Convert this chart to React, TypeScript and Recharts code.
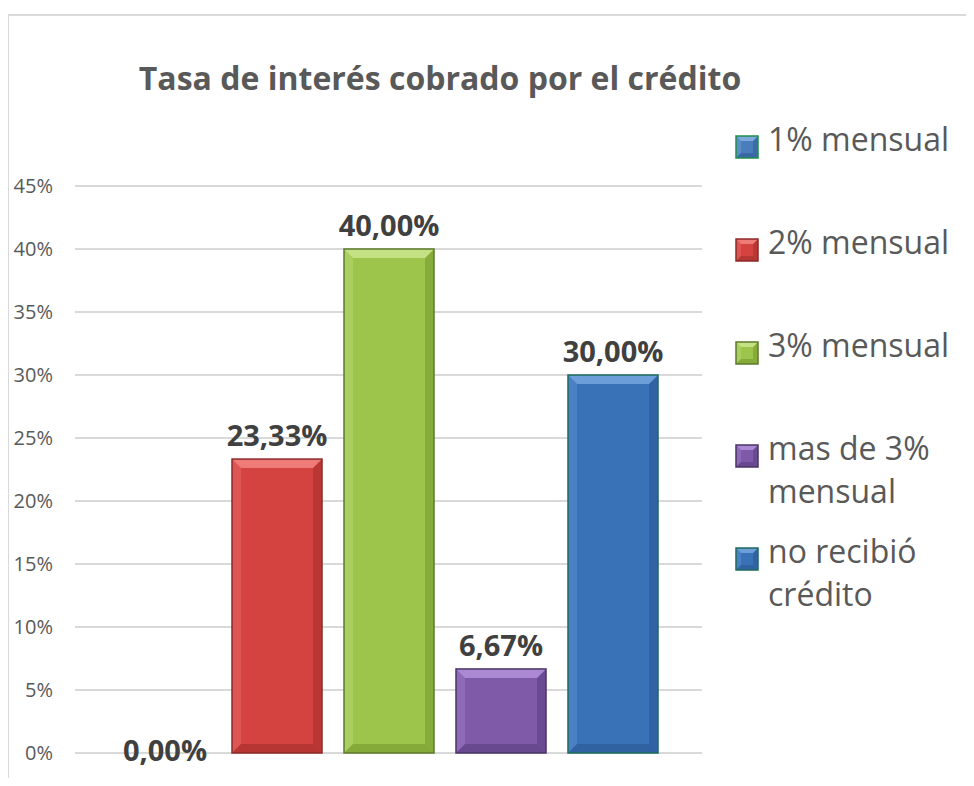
import {
  Bar,
  BarChart,
  CartesianGrid,
  Customized,
  LabelList,
  Legend,
  XAxis,
  YAxis,
} from "recharts";

const categories = ["Tasa de interés"];
const seriesNames = [
  "1% mensual",
  "2% mensual",
  "3% mensual",
  "mas de 3% mensual",
  "no recibió crédito",
];
const seriesValues = [0, 0.2333, 0.4, 0.0667, 0.3];
const yTicks = [0, 0.05, 0.1, 0.15, 0.2, 0.25, 0.3, 0.35, 0.4, 0.45];

type Palette = { fill: string; light: string; dark: string; stroke: string };

// bevelled fills, roughly the old office look
const palettes: Palette[] = [
  { fill: "#4A7EBB", light: "#7FA8DC", dark: "#2F5C96", stroke: "#1E8F4E" },
  { fill: "#D4433F", light: "#EE7B77", dark: "#A22E2B", stroke: "#8C2A28" },
  { fill: "#9DC54C", light: "#C4E283", dark: "#77982F", stroke: "#5E7A2E" },
  { fill: "#7E5AA8", light: "#AB8AD3", dark: "#5A3E80", stroke: "#4A3566" },
  { fill: "#3A72B8", light: "#6C9FDA", dark: "#2A5892", stroke: "#1D6B5E" },
];

const data = categories.map((name) => {
  const row: Record<string, string | number> = { name };
  seriesValues.forEach((v, i) => {
    row[`s${i}`] = v;
  });
  return row;
});

const fmtPct = (v: number) => `${(v * 100).toFixed(2).replace(".", ",")}%`;

function Bevel({
  x,
  y,
  width,
  height,
  pal,
  b,
  sw,
}: {
  x: number;
  y: number;
  width: number;
  height: number;
  pal: Palette;
  b: number;
  sw: number;
}) {
  const r = x + width;
  const bt = y + height;
  return (
    <g>
      <rect x={x} y={y} width={width} height={height} fill={pal.fill} />
      <polygon
        points={`${x},${y} ${x + b},${y + b} ${x + b},${bt - b} ${x},${bt}`}
        fill={pal.light}
        opacity={0.35}
      />
      <polygon
        points={`${r},${y} ${r},${bt} ${r - b},${bt - b} ${r - b},${y + b}`}
        fill={pal.dark}
        opacity={0.55}
      />
      <polygon
        points={`${x},${bt} ${r},${bt} ${r - b},${bt - b} ${x + b},${bt - b}`}
        fill={pal.dark}
        opacity={0.6}
      />
      <polygon
        points={`${x},${y} ${r},${y} ${r - b},${y + b} ${x + b},${y + b}`}
        fill={pal.light}
      />
      <rect
        x={x}
        y={y}
        width={width}
        height={height}
        fill="none"
        stroke={pal.stroke}
        strokeWidth={sw}
      />
    </g>
  );
}

function BarShape(props: any, pal: Palette) {
  const x = Number(props.x);
  const y = Number(props.y);
  const width = Number(props.width);
  const height = Number(props.height);
  if (!height || height <= 0) return <g />;
  return (
    <Bevel
      x={x}
      y={y}
      width={width}
      height={height}
      pal={pal}
      b={Math.min(9, height / 2)}
      sw={1.5}
    />
  );
}

function renderValueLabel(props: any) {
  const { x, y, width, value } = props;
  const v = Number(value);
  const cx = Number(x) + Number(width) / 2;
  const ty = v === 0 ? Number(y) + 8 : Number(y) - 13;
  return (
    <text
      x={cx}
      y={ty}
      textAnchor="middle"
      fontSize={29}
      fontWeight={700}
      fill="#404040"
      fontFamily="Open Sans"
    >
      {fmtPct(v)}
    </text>
  );
}

function LegendList() {
  return (
    <div style={{ fontFamily: "Open Sans" }}>
      {seriesNames.map((name, i) => (
        <div key={name} style={{ position: "relative", height: 103 }}>
          <svg
            width={24}
            height={24}
            style={{ position: "absolute", left: 0, top: 18 }}
          >
            <Bevel
              x={1}
              y={1}
              width={22}
              height={22}
              pal={palettes[i]}
              b={5}
              sw={1.5}
            />
          </svg>
          <div
            style={{
              position: "absolute",
              left: 33,
              top: 0,
              width: 195,
              fontSize: 32,
              lineHeight: "43px",
              color: "#595959",
            }}
          >
            {name}
          </div>
        </div>
      ))}
    </div>
  );
}

function Title() {
  return (
    <text
      x={440}
      y={90}
      textAnchor="middle"
      fontSize={32}
      fontWeight={700}
      fill="#595959"
      fontFamily="Open Sans"
    >
      Tasa de interés cobrado por el crédito
    </text>
  );
}

export default function App() {
  return (
    <div
      style={{
        position: "relative",
        margin: -8,
        width: 974,
        height: 786,
        overflow: "hidden",
        background: "#fff",
        fontFamily: "Open Sans",
      }}
    >
      <div
        style={{
          position: "absolute",
          left: 7,
          top: 14,
          width: 1000,
          height: 900,
          borderTop: "2px solid #d9d9d9",
          borderLeft: "2px solid #d9d9d9",
        }}
      />
      <div style={{ position: "absolute", left: 0, top: 0 }}>
        <BarChart
          width={974}
          height={786}
          data={data}
          margin={{ top: 186, right: 272, bottom: 33, left: 0 }}
          barSize={90}
          barGap={22}
        >
          <CartesianGrid
            vertical={false}
            stroke="#d9d9d9"
            strokeWidth={2}
          />
          <XAxis dataKey="name" hide />
          <YAxis
            domain={[0, 0.45]}
            ticks={yTicks}
            width={75}
            axisLine={false}
            tickLine={false}
            tickSize={0}
            tickMargin={22}
            tickFormatter={(v: number) => `${Math.round(v * 100)}%`}
            tick={{ fontSize: 20, fill: "#595959", fontFamily: "Open Sans" }}
          />
          {seriesNames.map((name, i) => (
            <Bar
              key={name}
              dataKey={`s${i}`}
              name={name}
              fill={palettes[i].fill}
              isAnimationActive={false}
              shape={(p: any) => BarShape(p, palettes[i])}
            >
              <LabelList dataKey={`s${i}`} content={renderValueLabel} />
            </Bar>
          ))}
          <Legend
            layout="horizontal"
            verticalAlign="middle"
            align="center"
            wrapperStyle={{ left: 735, top: 117, width: 235, height: 520 }}
            content={() => <LegendList />}
          />
          <Customized component={Title} />
        </BarChart>
      </div>
    </div>
  );
}
